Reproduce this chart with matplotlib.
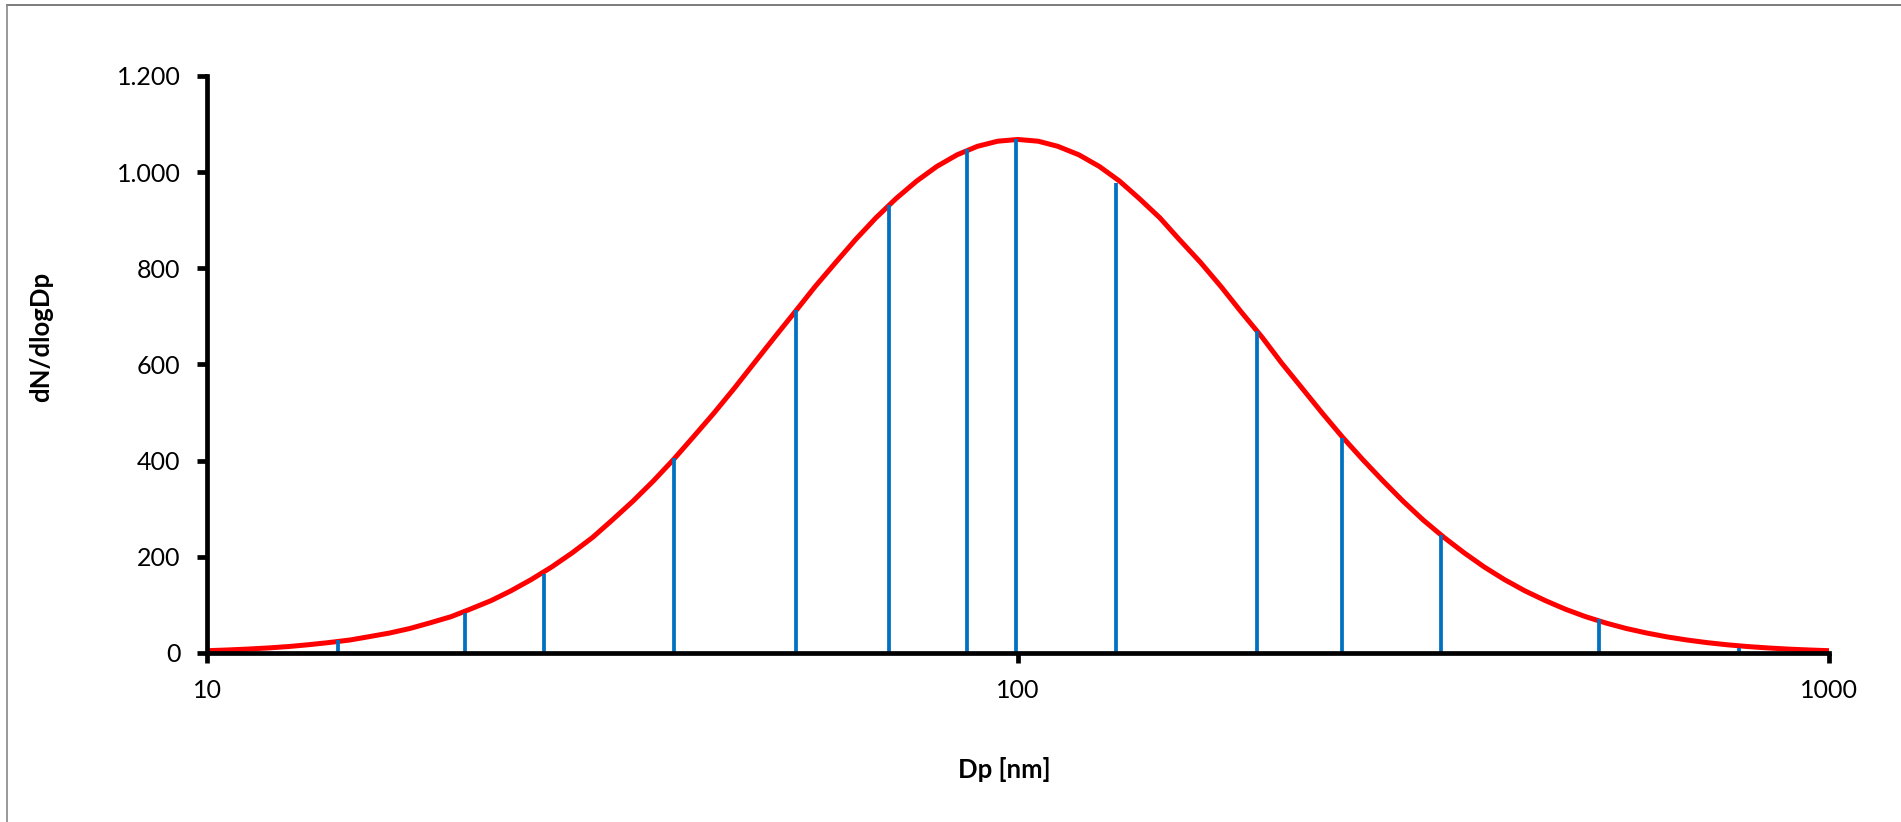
import matplotlib
matplotlib.use("Agg")
import matplotlib.pyplot as plt
from matplotlib.lines import Line2D
from matplotlib.ticker import FixedLocator, FuncFormatter, NullLocator

# red curve (Dp in nm, dN/dlogDp)
curve_dp = [10, 10.6, 11.2, 11.9, 12.6, 13.3, 14.1, 15.0, 15.8, 16.8, 17.8, 18.8,
            20.0, 21.1, 22.4, 23.7, 25.1, 26.6, 28.2, 29.9, 31.6, 33.5, 35.5, 37.6,
            39.8, 42.2, 44.7, 47.3, 50.1, 53.1, 56.2, 59.6, 63.1, 66.8, 70.8, 75.0,
            79.4, 84.1, 89.1, 94.4, 100,
            105.9, 112, 118.9, 126, 133.4, 141, 149.6, 158, 167.9, 178, 188.4,
            200, 211.3, 224, 237.1, 251, 266.1, 282, 298.5, 316, 335.0, 355, 375.8,
            398, 421.7, 447, 473.2, 501, 530.9, 562, 595.7, 631, 668.3, 708, 749.9,
            794, 841.4, 891, 944.1, 1000]
curve_n = [4.8, 6.3, 8.1, 10.5, 13.4, 17.0, 21.5, 27.0, 33.6, 41.6, 51.1, 62.3,
           75.6, 91.0, 108.9, 129.3, 152.6, 178.8, 208.2, 240.7, 276.5, 315.5, 357.5, 402.3,
           449.8, 499.4, 550.8, 603.4, 656.6, 709.6, 761.8, 812.3, 860.4, 905.0, 945.7, 981.5,
           1011.8, 1036.0, 1053.7, 1064.4, 1068,
           1064.4, 1053.7, 1036.0, 1011.8, 981.5, 945.7, 905.0, 860.4, 812.3, 761.8, 709.6,
           656.6, 603.4, 550.8, 499.4, 449.8, 402.3, 357.5, 315.5, 276.5, 240.7, 208.2, 178.8,
           152.6, 129.3, 108.9, 91.0, 75.6, 62.3, 51.1, 41.6, 33.6, 27.0, 21.5, 17.0,
           13.4, 10.5, 8.1, 6.3, 4.8]

# blue bins
bin_dp = [14.5, 20.8, 26.0, 37.7, 53.3, 69.4, 86.6, 99.5, 132, 197, 251, 332, 520, 774]
bin_n = [27, 84, 165, 405, 713, 932, 1048, 1068, 977, 670, 448, 246, 70, 11]

xticks = [10, 100, 1000]
yticks = [0, 200, 400, 600, 800, 1000, 1200]

RED = "#ff0000"
BLUE = "#0070c0"
FONT = ["Lato", "DejaVu Sans"]

plt.rcParams["font.family"] = FONT

fig = plt.figure(figsize=(19.01, 8.22), dpi=100, facecolor="white")
ax = fig.add_axes([207 / 1901, 1 - 653 / 822, (1829 - 207) / 1901, (653 - 76) / 822])

ax.plot(curve_dp, curve_n, color=RED, lw=3.6, zorder=2,
        solid_capstyle="round", solid_joinstyle="round")
ax.vlines(bin_dp, 0, bin_n, color=BLUE, lw=2.7, zorder=3)

ax.set_xscale("log")
ax.set_xlim(10, 1000)
ax.set_ylim(0, 1200)
ax.xaxis.set_major_locator(FixedLocator(xticks))
ax.xaxis.set_minor_locator(NullLocator())
ax.xaxis.set_major_formatter(FuncFormatter(lambda v, p: f"{int(round(v))}"))
ax.yaxis.set_major_locator(FixedLocator(yticks))
ax.yaxis.set_major_formatter(FuncFormatter(lambda v, p: f"{int(v):,}".replace(",", ".")))

for s in ("top", "right"):
    ax.spines[s].set_visible(False)
for s in ("left", "bottom"):
    ax.spines[s].set_linewidth(3.4)
    ax.spines[s].set_zorder(4)
ax.tick_params(axis="both", direction="out", length=7, width=3.4, color="black",
               labelsize=18, pad=12, labelcolor="black")
ax.set_facecolor("none")

fig.text(41 / 1901, 1 - 337 / 822, "dN/dlogDp", rotation=90, ha="center", va="center",
         fontsize=18.5, fontweight="bold")
fig.text(1004 / 1901, 1 - 769 / 822, "Dp [nm]", ha="center", va="center",
         fontsize=18.5, fontweight="bold")

# outer frame (top and left edges only are visible)
fig.add_artist(Line2D([7 / 1901, 1], [1 - 5 / 822, 1 - 5 / 822], color="#666666", lw=1.2,
                      transform=fig.transFigure))
fig.add_artist(Line2D([7 / 1901, 7 / 1901], [0, 1 - 5 / 822], color="#888888", lw=1.2,
                      transform=fig.transFigure))

fig.savefig("out.png", dpi=100, facecolor="white")
